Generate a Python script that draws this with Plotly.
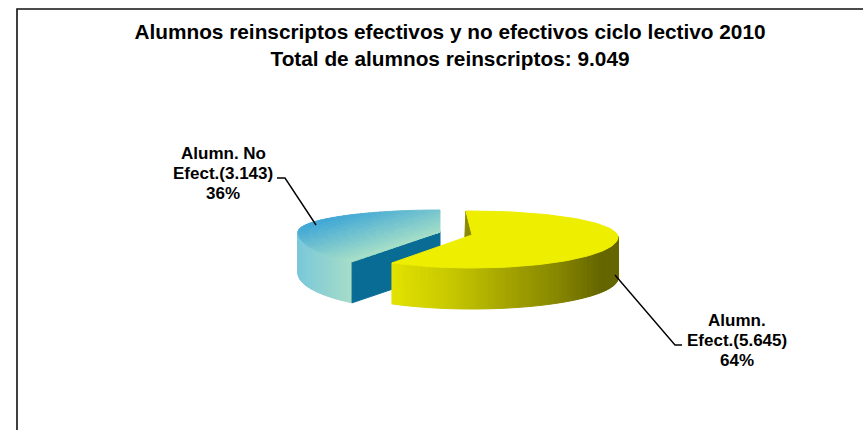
import math
import numpy as np
import plotly.graph_objects as go

# ---- data ----
categories = ["Alumn. No Efect.", "Alumn. Efect."]
values = [3143, 5645]
percent_labels = ["36%", "64%"]
value_labels = ["3.143", "5.645"]
title_lines = ["Alumnos reinscriptos efectivos y no efectivos ciclo lectivo 2010",
               "Total de alumnos reinscriptos: 9.049"]

# ---- 3D view of the pie (pixel space of an 863x430 canvas) ----
VIEW_SHIFT_Y = -18    # screen distortion of the boundary angle, yellow slice
VIEW_SHIFT_B = -13    # same, blue slice
DEPTH = 41
BLUE = dict(cx=440, cy=232, a=142, back=22, front=38)
YELL = dict(cx=472, cy=237, a=146, back=26, front=31)
Y_START = -2.4

frac_yellow = values[1] / sum(values)
boundary_y = 360 * frac_yellow + VIEW_SHIFT_Y
boundary_b = 360 * frac_yellow + VIEW_SHIFT_B


def rim(p, t, r=1.0):
    t = np.radians(t)
    s, c = np.sin(t), np.cos(t)
    b = np.where(c > 0, p["back"], p["front"])
    return p["cx"] + r * p["a"] * s, p["cy"] - r * b * c


def mix(c1, c2, f):
    f = min(1, max(0, f))
    return tuple(c1[i] + (c2[i] - c1[i]) * f for i in range(3))


def css(c):
    return "rgb(%d,%d,%d)" % tuple(round(v) for v in c)


def poly(xs, ys, color, name=None):
    xs, ys = list(xs), list(ys)
    return go.Scatter(x=xs, y=ys, mode="lines", fill="toself", fillcolor=color,
                      line=dict(color=color, width=1), hoverinfo="skip" if name is None else "name",
                      name=name or "", showlegend=False)


traces = []

# blue slice: outer wall
ts = np.linspace(boundary_b, 272, 36)
for a0, a1 in zip(ts[:-1], ts[1:]):
    x0, y0 = rim(BLUE, a0)
    x1, y1 = rim(BLUE, a1)
    f = (352 - x0) / 54
    col = css(mix((166, 220, 200), (122, 200, 218), f))
    traces.append(poly([x0, x1, x1, x0, x0], [y0, y1, y1 + DEPTH, y0 + DEPTH, y0], col))

# blue slice: cut face
x_t, y_t = rim(BLUE, boundary_b)
traces.append(poly([BLUE["cx"], x_t, x_t, BLUE["cx"], BLUE["cx"]],
                   [BLUE["cy"], y_t, y_t + DEPTH, BLUE["cy"] + DEPTH, BLUE["cy"]],
                   "#086C94"))

# blue slice: top, diagonal gradient grouped in colour bands
LEVELS = 24
bands = {i: ([], []) for i in range(LEVELS + 1)}
nx, ny = 0.30, 0.95
ts = np.linspace(boundary_b, 360, 80)
rs = np.linspace(0, 1, 16)
for a0, a1 in zip(ts[:-1], ts[1:]):
    for r0, r1 in zip(rs[:-1], rs[1:]):
        xa, ya = rim(BLUE, a0, r0)
        xb, yb = rim(BLUE, a1, r0)
        xc, yc = rim(BLUE, a1, r1)
        xd, yd = rim(BLUE, a0, r1)
        mx, my = (xa + xb + xc + xd) / 4, (ya + yb + yc + yd) / 4
        d = (mx - BLUE["cx"]) * nx + (my - BLUE["cy"]) * ny
        level = int(round(min(1, max(0, -d / 46)) * LEVELS))
        bx, by = bands[level]
        bx += [xa, xb, xc, xd, xa, None]
        by += [ya, yb, yc, yd, ya, None]
for level, (bx, by) in bands.items():
    if bx:
        col = css(mix((166, 223, 200), (66, 168, 214), level / LEVELS))
        traces.append(poly(bx, by, col))

# yellow slice: outer wall
stops_x = [393, 450, 500, 560, 600, 618]
stops_c = [(226, 226, 0), (200, 200, 0), (168, 168, 0), (133, 133, 0), (102, 102, 0), (102, 102, 0)]
ts = np.linspace(boundary_y, 88, 80)
for a0, a1 in zip(ts[:-1], ts[1:]):
    x0, y0 = rim(YELL, a0)
    x1, y1 = rim(YELL, a1)
    xm = (x0 + x1) / 2
    col = [float(np.interp(xm, stops_x, [c[i] for c in stops_c])) for i in range(3)]
    traces.append(poly([x0, x1, x1, x0, x0], [y0, y1, y1 + DEPTH, y0 + DEPTH, y0], css(col)))

# yellow slice: inner wall seen at the notch
xs0, ys0 = rim(YELL, Y_START)
traces.append(poly([xs0, YELL["cx"], xs0 - 1, xs0], [ys0, YELL["cy"] - 2, YELL["cy"], ys0], "#8A8A00"))

# yellow slice: top
ts = np.linspace(Y_START, boundary_y, 120)
xs, ys = rim(YELL, ts)
traces.append(poly([YELL["cx"], *xs, YELL["cx"]], [YELL["cy"] - 2, *ys, YELL["cy"] - 2],
                   "#EEEE00", categories[1]))

fig = go.Figure(traces)

ink = "#000000"
annotations = []
label_pos = [(223, 173), (737, 340)]
label_lines = [["Alumn. No", f"Efect.({value_labels[0]})", percent_labels[0]],
               ["Alumn.", f"Efect.({value_labels[1]})", percent_labels[1]]]
for (lx, ly), lines in zip(label_pos, label_lines):
    for k, line in enumerate(lines):
        annotations.append(dict(x=lx, y=ly + (k - 1) * 20, xref="x", yref="y", text=f"<b>{line}</b>",
                                showarrow=False, xanchor="center", yanchor="middle",
                                font=dict(family="Liberation Sans", size=17, color=ink)))

shapes = [
    dict(type="path", path="M 277 178 L 285 178 L 316 225", line=dict(color=ink, width=1.4), xref="x", yref="y"),
    dict(type="path", path="M 615 275 L 675 345 L 682 345", line=dict(color=ink, width=1.4), xref="x", yref="y"),
    dict(type="path", path="M 17 430 L 17 9 L 863 9", line=dict(color="#111111", width=1.6), xref="x", yref="y"),
]

fig.update_layout(
    width=863, height=430, margin=dict(l=0, r=0, t=0, b=0),
    paper_bgcolor="white", plot_bgcolor="white", showlegend=False,
    title=dict(text=f"<b>{title_lines[0]}</b><br><b>{title_lines[1]}</b>",
               x=450 / 863, xanchor="center", y=1 - 39 / 430, yanchor="top",
               font=dict(family="Liberation Sans", size=20.8, color=ink)),
    xaxis=dict(range=[0, 863], visible=False, fixedrange=True),
    yaxis=dict(range=[430, 0], visible=False, fixedrange=True),
    annotations=annotations, shapes=shapes,
)
fig.write_html("out.html", config=dict(displayModeBar=False),
               post_script="document.body.style.margin='0';document.documentElement.style.overflow='hidden';")
